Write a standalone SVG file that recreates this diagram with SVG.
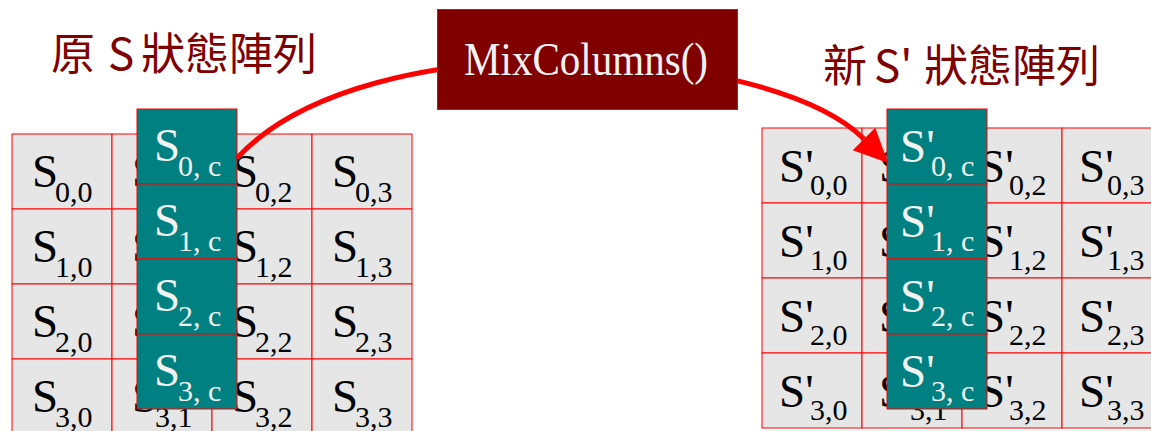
<svg xmlns="http://www.w3.org/2000/svg" width="1151" height="431" viewBox="0 0 1151 431">
  <style>
    .cell { fill: #e6e6e6; stroke: #ff0000; stroke-width: 1; }
    .col { fill: #008080; stroke: #ff0000; stroke-width: 1; }
    .big { font-family: "Liberation Serif", "Times New Roman", serif; font-size: 47px; fill: #000000; }
    .sub { font-family: "Liberation Serif", "Times New Roman", serif; font-size: 30px; fill: #000000; }
    .col .big, .colt { fill: #f2f2f2; }
    .title { font-family: "Noto Sans CJK TC", "Noto Sans CJK SC", sans-serif; font-size: 44px; fill: #800000; }
    .op { fill: #800000; stroke: #3333ff; stroke-width: 1; }
    .optext { font-family: "Liberation Serif", "Times New Roman", serif; font-size: 46px; fill: #f2f2f2; }
    .link { fill: none; stroke: #ff0000; stroke-width: 5; }
  </style>
  <defs>
    <marker id="head" markerUnits="userSpaceOnUse" markerWidth="34" markerHeight="34" viewBox="0 -16 32 32" refX="0" refY="0" orient="auto">
      <path d="M0,-15 L32,0 L0,15 Z" fill="#ff0000"/>
    </marker>
  </defs>

  <rect width="1151" height="431" fill="#ffffff"/>

  <!-- titles -->
  <text id="title-old" class="title"><tspan x="51" y="70">原</tspan><tspan x="108" y="70">S</tspan><tspan x="141" y="70">狀態陣列</tspan></text>
  <text id="title-new" class="title"><tspan x="823" y="82">新</tspan><tspan x="874" y="82">S'</tspan><tspan x="924" y="82">狀態陣列</tspan></text>

  <!-- original state array S -->
  <g id="state-s">
    <g class="cells">
      <rect class="cell" x="12" y="134" width="100" height="75"/><rect class="cell" x="112" y="134" width="100" height="75"/><rect class="cell" x="212" y="134" width="100" height="75"/><rect class="cell" x="312" y="134" width="100" height="75"/>
      <rect class="cell" x="12" y="209" width="100" height="75"/><rect class="cell" x="112" y="209" width="100" height="75"/><rect class="cell" x="212" y="209" width="100" height="75"/><rect class="cell" x="312" y="209" width="100" height="75"/>
      <rect class="cell" x="12" y="284" width="100" height="75"/><rect class="cell" x="112" y="284" width="100" height="75"/><rect class="cell" x="212" y="284" width="100" height="75"/><rect class="cell" x="312" y="284" width="100" height="75"/>
      <rect class="cell" x="12" y="359" width="100" height="75"/><rect class="cell" x="112" y="359" width="100" height="75"/><rect class="cell" x="212" y="359" width="100" height="75"/><rect class="cell" x="312" y="359" width="100" height="75"/>
    </g>
    <g class="labels">
      <text class="big" x="32" y="187">S</text><text class="sub" x="55" y="202">0,0</text>
      <text class="big" x="132" y="187">S</text><text class="sub" x="155" y="202">0,1</text>
      <text class="big" x="232" y="187">S</text><text class="sub" x="255" y="202">0,2</text>
      <text class="big" x="332" y="187">S</text><text class="sub" x="355" y="202">0,3</text>
      <text class="big" x="32" y="262">S</text><text class="sub" x="55" y="277">1,0</text>
      <text class="big" x="132" y="262">S</text><text class="sub" x="155" y="277">1,1</text>
      <text class="big" x="232" y="262">S</text><text class="sub" x="255" y="277">1,2</text>
      <text class="big" x="332" y="262">S</text><text class="sub" x="355" y="277">1,3</text>
      <text class="big" x="32" y="337">S</text><text class="sub" x="55" y="352">2,0</text>
      <text class="big" x="132" y="337">S</text><text class="sub" x="155" y="352">2,1</text>
      <text class="big" x="232" y="337">S</text><text class="sub" x="255" y="352">2,2</text>
      <text class="big" x="332" y="337">S</text><text class="sub" x="355" y="352">2,3</text>
      <text class="big" x="32" y="412">S</text><text class="sub" x="55" y="427">3,0</text>
      <text class="big" x="132" y="412">S</text><text class="sub" x="155" y="427">3,1</text>
      <text class="big" x="232" y="412">S</text><text class="sub" x="255" y="427">3,2</text>
      <text class="big" x="332" y="412">S</text><text class="sub" x="355" y="427">3,3</text>
    </g>
  </g>

  <!-- column c of S -->
  <g id="column-s">
    <rect class="col" x="137" y="109" width="100" height="75"/>
    <rect class="col" x="137" y="184" width="100" height="75"/>
    <rect class="col" x="137" y="259" width="100" height="75"/>
    <rect class="col" x="137" y="334" width="100" height="75"/>
    <text class="big colt" x="154" y="161">S</text><text class="sub colt" x="178" y="176">0, c</text>
    <text class="big colt" x="154" y="236">S</text><text class="sub colt" x="178" y="251">1, c</text>
    <text class="big colt" x="154" y="311">S</text><text class="sub colt" x="178" y="326">2, c</text>
    <text class="big colt" x="154" y="386">S</text><text class="sub colt" x="178" y="401">3, c</text>
  </g>

  <!-- new state array S' -->
  <g id="state-s-prime">
    <g class="cells">
      <rect class="cell" x="762" y="128" width="100" height="75"/><rect class="cell" x="862" y="128" width="100" height="75"/><rect class="cell" x="962" y="128" width="100" height="75"/><rect class="cell" x="1062" y="128" width="100" height="75"/>
      <rect class="cell" x="762" y="203" width="100" height="75"/><rect class="cell" x="862" y="203" width="100" height="75"/><rect class="cell" x="962" y="203" width="100" height="75"/><rect class="cell" x="1062" y="203" width="100" height="75"/>
      <rect class="cell" x="762" y="278" width="100" height="75"/><rect class="cell" x="862" y="278" width="100" height="75"/><rect class="cell" x="962" y="278" width="100" height="75"/><rect class="cell" x="1062" y="278" width="100" height="75"/>
      <rect class="cell" x="762" y="353" width="100" height="75"/><rect class="cell" x="862" y="353" width="100" height="75"/><rect class="cell" x="962" y="353" width="100" height="75"/><rect class="cell" x="1062" y="353" width="100" height="75"/>
    </g>
    <g class="labels">
      <text class="big" x="779" y="182">S'</text><text class="sub" x="810" y="195">0,0</text>
      <text class="big" x="879" y="182">S'</text><text class="sub" x="910" y="195">0,1</text>
      <text class="big" x="979" y="182">S'</text><text class="sub" x="1009" y="195">0,2</text>
      <text class="big" x="1079" y="182">S'</text><text class="sub" x="1107" y="195">0,3</text>
      <text class="big" x="779" y="257">S'</text><text class="sub" x="810" y="270">1,0</text>
      <text class="big" x="879" y="257">S'</text><text class="sub" x="910" y="270">1,1</text>
      <text class="big" x="979" y="257">S'</text><text class="sub" x="1009" y="270">1,2</text>
      <text class="big" x="1079" y="257">S'</text><text class="sub" x="1107" y="270">1,3</text>
      <text class="big" x="779" y="332">S'</text><text class="sub" x="810" y="345">2,0</text>
      <text class="big" x="879" y="332">S'</text><text class="sub" x="910" y="345">2,1</text>
      <text class="big" x="979" y="332">S'</text><text class="sub" x="1009" y="345">2,2</text>
      <text class="big" x="1079" y="332">S'</text><text class="sub" x="1107" y="345">2,3</text>
      <text class="big" x="779" y="407">S'</text><text class="sub" x="810" y="420">3,0</text>
      <text class="big" x="879" y="407">S'</text><text class="sub" x="910" y="420">3,1</text>
      <text class="big" x="979" y="407">S'</text><text class="sub" x="1009" y="420">3,2</text>
      <text class="big" x="1079" y="407">S'</text><text class="sub" x="1107" y="420">3,3</text>
    </g>
  </g>

  <!-- column c of S' -->
  <g id="column-s-prime">
    <rect class="col" x="887" y="109" width="100" height="75"/>
    <rect class="col" x="887" y="184" width="100" height="75"/>
    <rect class="col" x="887" y="259" width="100" height="75"/>
    <rect class="col" x="887" y="334" width="100" height="75"/>
    <text class="big colt" x="900" y="162">S'</text><text class="sub colt" x="931" y="176">0, c</text>
    <text class="big colt" x="900" y="237">S'</text><text class="sub colt" x="931" y="251">1, c</text>
    <text class="big colt" x="900" y="312">S'</text><text class="sub colt" x="931" y="326">2, c</text>
    <text class="big colt" x="900" y="387">S'</text><text class="sub colt" x="931" y="401">3, c</text>
  </g>

  <!-- connector: column c through MixColumns into column c of S' -->
  <g id="connectors">
    <path class="link" d="M237,158 C367,18 770,45 864,139" marker-end="url(#head)"/>
  </g>

  <!-- MixColumns operation -->
  <g id="mixcolumns">
    <rect class="op" x="437.5" y="9.5" width="300" height="100"/>
    <text class="optext" x="464" y="75" textLength="244" lengthAdjust="spacingAndGlyphs">MixColumns()</text>
  </g>
</svg>
